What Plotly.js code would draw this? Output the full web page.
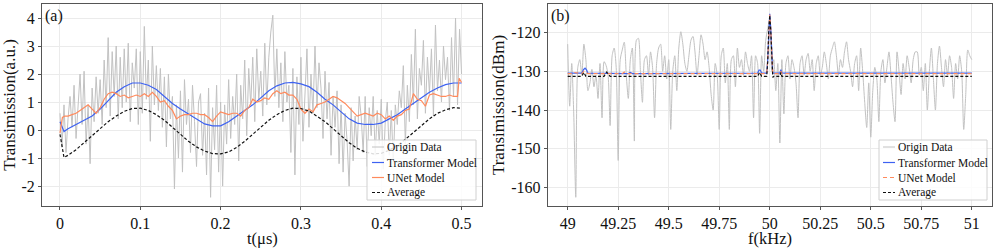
<!DOCTYPE html>
<html>
<head>
<meta charset="utf-8">
<script src="https://cdn.plot.ly/plotly-3.0.1.min.js"></script>
<style>html,body{margin:0;padding:0;background:#fff;}#chart{width:997px;height:249px;}</style>
</head>
<body>
<div id="chart"></div>
<script>
// ---------- Panel (a): time domain ----------
const tOrigin = [];
const originA = [
  0.6,-0.6,0.9,-0.8,0.4,1.2,0.1,1.6,-0.3,0.7,
  2.0,0.2,2.1,-0.5,0.9,-1.2,1.5,0.3,1.9,0.6,
  1.8,0.2,2.5,0.8,3.3,0.5,2.8,1.2,3.0,0.4,
  2.6,0.8,2.9,1.0,3.1,0.3,2.4,1.5,2.9,0.2,
  2.8,0.6,3.7,1.1,2.5,-0.4,3.0,0.9,2.3,0.7,
  2.2,0.1,1.9,-0.6,2.0,0.4,1.2,-2.1,0.9,-1.0,
  1.4,-1.5,1.8,0.2,1.1,-0.8,1.6,0.3,-1.3,1.0,
  1.3,-0.9,0.6,-1.6,1.5,-2.4,0.8,-0.7,1.6,-1.5,
  1.0,-2.0,0.9,-0.5,1.8,-0.3,1.2,0.2,2.0,-1.1,
  1.6,0.4,2.5,-0.2,2.2,0.9,2.6,0.3,2.9,1.1,
  2.1,0.5,3.1,0.9,2.6,3.5,4.1,1.2,2.9,0.8,
  2.4,0.3,2.8,1.0,1.6,-0.8,2.2,-1.6,1.9,0.2,
  2.6,-0.4,1.5,2.9,0.1,2.0,0.6,3.0,0.8,2.4,
  1.5,-0.3,2.1,0.4,1.7,-0.9,1.2,0.1,1.4,-1.2,
  0.9,-1.5,0.6,-0.4,-2.0,0.8,-1.1,0.5,-0.7,1.2,
  0.5,-0.8,1.2,-1.3,0.8,-0.2,1.2,-0.9,0.7,-0.5,
  1.1,-1.4,0.3,1.0,-0.9,0.7,-1.2,0.9,0.2,1.4,
  0.8,2.3,-0.5,1.6,0.3,2.7,0.9,3.6,0.4,2.2,
  1.6,3.2,0.6,2.6,1.3,2.9,0.5,3.75,1.4,2.5,
  1.0,3.0,1.8,2.6,0.7,3.3,1.2,4.0,0.9,3.6,
  2.0
];
for (let i = 0; i < originA.length; i++) tOrigin.push(+(i * 0.0025).toFixed(4));

const tModelA = [0,0.005,0.01,0.02,0.03,0.04,0.05,0.06,0.07,0.08,0.09,0.1,0.11,0.12,0.13,0.14,0.15,0.16,0.17,0.18,0.19,0.2,0.21,0.22,0.23,0.24,0.25,0.26,0.27,0.28,0.29,0.3,0.31,0.32,0.33,0.34,0.35,0.36,0.37,0.38,0.39,0.4,0.41,0.42,0.43,0.44,0.45,0.46,0.47,0.48,0.49,0.5];
const transformerA = [0.3,-0.05,0.05,0.2,0.35,0.5,0.75,1.05,1.35,1.55,1.68,1.68,1.6,1.45,1.2,0.95,0.75,0.58,0.4,0.22,0.15,0.15,0.3,0.5,0.7,0.9,1.15,1.4,1.58,1.68,1.7,1.65,1.55,1.35,1.1,0.9,0.65,0.4,0.25,0.2,0.2,0.25,0.4,0.55,0.75,0.95,1.15,1.35,1.5,1.62,1.68,1.68];
const averageA = [-0.15,-0.98,-0.9,-0.7,-0.45,-0.2,0.05,0.3,0.5,0.67,0.77,0.78,0.7,0.55,0.35,0.1,-0.15,-0.4,-0.6,-0.75,-0.84,-0.85,-0.78,-0.62,-0.4,-0.15,0.1,0.35,0.55,0.7,0.78,0.77,0.68,0.5,0.3,0.05,-0.2,-0.45,-0.65,-0.78,-0.85,-0.83,-0.72,-0.55,-0.33,-0.08,0.18,0.4,0.6,0.72,0.8,0.78];
const tUnetA = [0,0.003,0.006,0.01,0.015,0.02,0.025,0.03,0.035,0.04,0.045,0.05,0.055,0.06,0.065,0.07,0.075,0.08,0.085,0.09,0.095,0.1,0.105,0.11,0.115,0.12,0.125,0.13,0.135,0.14,0.145,0.15,0.155,0.16,0.165,0.17,0.175,0.18,0.185,0.19,0.195,0.2,0.205,0.21,0.215,0.22,0.225,0.23,0.235,0.24,0.245,0.25,0.255,0.26,0.265,0.27,0.275,0.28,0.285,0.29,0.295,0.3,0.305,0.31,0.315,0.32,0.325,0.33,0.335,0.34,0.345,0.35,0.355,0.36,0.365,0.37,0.375,0.38,0.385,0.39,0.395,0.4,0.405,0.41,0.415,0.42,0.425,0.43,0.435,0.44,0.445,0.45,0.455,0.46,0.465,0.47,0.475,0.48,0.485,0.49,0.495,0.497,0.5];
const unetA = [-0.1,0.45,0.5,0.5,0.55,0.6,0.7,0.8,0.9,0.75,0.6,0.8,1.1,1.3,1.35,1.3,1.2,1.25,1.15,1.2,1.25,1.2,1.3,1.2,1.35,1.2,1.0,1.05,0.85,0.7,0.4,0.5,0.55,0.55,0.6,0.6,0.55,0.55,0.45,0.3,0.5,0.65,0.6,0.55,0.6,0.6,0.5,0.7,0.8,1.1,1.0,1.05,1.15,1.1,1.3,1.4,1.3,1.35,1.25,1.25,1.1,0.75,0.6,0.75,0.65,0.9,0.95,1.0,1.1,1.2,1.15,1.05,0.95,0.8,0.65,0.5,0.55,0.6,0.55,0.5,0.6,0.55,0.4,0.5,0.35,0.5,0.55,0.7,0.75,1.3,1.1,1.05,0.85,1.25,1.3,1.25,1.2,1.2,1.25,1.2,1.2,1.85,1.7];

// ---------- Panel (b): frequency domain ----------
const fOrigin = [];
const originB = [
  -123,-139,-128,-141,-162.5,-129,-127,-131,-123,-127,
  -135,-133,-129.5,-134,-131,-137,-128,-142,-127.5,-128.5,
  -131,-144,-126,-124,-129,-153,-127,-124.5,-122.5,-131,
  -137,-127,-124,-148,-122,-121.5,-130,-138,-127,-126,
  -131,-125,-129,-142,-128,-124,-123,-130,-126,-132,
  -127,-145,-130,-126,-135,-124,-119.8,-123,-128,-130,
  -126,-122,-121,-125,-131,-126,-120.6,-123,-127,-125,
  -129,-136,-140,-128,-131,-145,-126,-124,-133,-128,
  -145,-127,-126,-134,-124,-129,-127,-131,-125,-128,
  -130,-126,-142,-126,-128,-146,-126,-130,-122,-119,
  -116.5,-130,-127,-135,-128,-148.5,-127,-141,-128,-126,
  -132,-127,-129,-133,-142,-128,-126,-131,-127,-125.4,
  -130,-127,-135,-128,-126,-131,-129,-125,-128,-132,
  -126,-124,-122.4,-126,-131,-127,-129,-125,-122.4,-127,
  -130,-134,-128,-126,-135,-124,-130,-138,-144.5,-133,
  -147,-135,-129,-132,-143,-130,-127,-133,-129,-125,
  -131,-138,-143,-125,-130,-136,-128,-132,-126,-129,
  -133,-127,-125,-125,-131,-129,-135,-128,-140,-130,
  -124,-132,-140,-128,-123.5,-129,-134,-127,-131,-126,
  -129,-137,-128,-132,-126,-130,-145,-136,-124.5,-126,
  -127
];
for (let i = 0; i < originB.length; i++) fOrigin.push(+(49 + i * 0.01).toFixed(2));

const fTrans = [49,49.07,49.078,49.086,49.094,49.10,49.30,49.31,49.32,49.94,49.947,49.953,49.96,49.985,49.99,49.995,50.0,50.005,50.01,50.015,50.05,50.055,50.06,50.07,51];
const transformerB = [-130.5,-130.5,-129.6,-129.2,-129.7,-130.5,-130.6,-130.3,-130.6,-130.5,-129.7,-129.7,-130.5,-130.5,-127,-119,-115.2,-119,-127,-130.5,-130.5,-129.6,-130.4,-130.5,-130.5];
const fUnet = [49,49.02,49.03,49.07,49.08,49.09,49.10,49.27,49.28,49.29,49.95,49.985,49.99,49.995,50.0,50.005,50.01,50.015,50.05,50.055,50.06,51];
const unetB = [-130.6,-130.6,-130.3,-130.6,-130.0,-130.3,-130.6,-130.6,-130.2,-130.6,-130.6,-130.6,-127,-119,-115.4,-119,-127,-130.6,-130.6,-130.0,-130.6,-130.6];
const fAvg = [49,49.07,49.08,49.09,49.18,49.193,49.21,49.94,49.95,49.96,49.985,49.99,49.995,50.0,50.005,50.01,50.015,50.02,50.05,50.055,50.06,51];
const averageB = [-131.3,-131.3,-130.3,-131.3,-131.3,-130.2,-131.3,-131.3,-130.3,-131.3,-131.3,-127.5,-119.5,-115.6,-119.5,-127.5,-131.6,-131.3,-131.3,-130.3,-131.3,-131.3];

const xTicksA = [0,0.1,0.2,0.3,0.4,0.5];
const xTickTextA = ["0","0.1","0.2","0.3","0.4","0.5"];
const yTicksA = [-2,-1,0,1,2,3,4];
const yTickTextA = ["-2","-1","0","1","2","3","4"];
const xTicksB = [49,49.25,49.5,49.75,50,50.25,50.5,50.75,51];
const xTickTextB = ["49","49.25","49.5","49.75","50","50.25","50.5","50.75","51"];
const yTicksB = [-160,-150,-140,-130,-120];
const yTickTextB = ["-160","-150","-140","-130","-120"];
const legendNames = ["Origin Data","Transformer Model","UNet Model","Average"];

const GRAY = "#c2c2c2", BLUE = "#3d62f2", ORANGE = "#ff8a5c", BLACK = "#111111";
const FONT = '"Liberation Serif", "Times New Roman", serif';

const traces = [
  {x: tOrigin, y: originA, type: "scatter", mode: "lines", name: legendNames[0], line: {color: GRAY, width: 1}, xaxis: "x", yaxis: "y"},
  {x: tModelA, y: transformerA, type: "scatter", mode: "lines", name: legendNames[1], line: {color: BLUE, width: 1.2}, xaxis: "x", yaxis: "y"},
  {x: tUnetA, y: unetA, type: "scatter", mode: "lines", name: legendNames[2], line: {color: ORANGE, width: 1.2}, xaxis: "x", yaxis: "y"},
  {x: tModelA, y: averageA, type: "scatter", mode: "lines", name: legendNames[3], line: {color: BLACK, width: 1.2, dash: "3px,2px"}, xaxis: "x", yaxis: "y"},

  {x: fOrigin, y: originB, type: "scatter", mode: "lines", name: legendNames[0], line: {color: GRAY, width: 1, shape: "spline", smoothing: 0.7}, xaxis: "x2", yaxis: "y2"},
  {x: fTrans, y: transformerB, type: "scatter", mode: "lines", name: legendNames[1], line: {color: BLUE, width: 1.2}, xaxis: "x2", yaxis: "y2"},
  {x: fUnet, y: unetB, type: "scatter", mode: "lines", name: legendNames[2], line: {color: ORANGE, width: 1.2, dash: "4px,3px"}, xaxis: "x2", yaxis: "y2"},
  {x: fAvg, y: averageB, type: "scatter", mode: "lines", name: legendNames[3], line: {color: BLACK, width: 1.2, dash: "3px,2px"}, xaxis: "x2", yaxis: "y2"}
];

// ---- layout geometry (pixels -> paper) ----
const W = 997, H = 249, ML = 42, MR = 5, MT = 4, MB = 43;
const PW = W - ML - MR, PH = H - MT - MB;
const px = v => (v - ML) / PW;
const py = v => (H - MB - v) / PH;

const axisCommon = {
  showgrid: true, gridcolor: "#ebebeb", gridwidth: 1, zeroline: false,
  showline: true, linecolor: "#555", linewidth: 1, mirror: true,
  ticks: "outside", ticklen: 3, tickcolor: "#555",
  tickfont: {family: FONT, size: 16, color: "#111"}
};

// custom legends (box, short line samples, labels)
const shapes = [], annotations = [];
function addLegend(box, lineX0, lineX1, textX, rowsY, styles) {
  shapes.push({type: "rect", xref: "paper", yref: "paper", x0: px(box[0]), x1: px(box[1]), y0: py(box[3]), y1: py(box[2]),
    line: {color: "#d0d0d0", width: 1}, fillcolor: "rgba(255,255,255,0.85)", layer: "above"});
  rowsY.forEach((ry, i) => {
    shapes.push({type: "line", xref: "paper", yref: "paper", x0: px(lineX0), x1: px(lineX1), y0: py(ry), y1: py(ry),
      line: styles[i], layer: "above"});
    annotations.push({text: legendNames[i], xref: "paper", yref: "paper", x: px(textX), y: py(ry), xanchor: "left", yanchor: "middle",
      showarrow: false, font: {family: FONT, size: 11.5, color: "#111"}});
  });
}
addLegend([367, 476, 140, 200], 372, 384, 385, [147, 162.5, 177.5, 192.5],
  [{color: GRAY, width: 1}, {color: BLUE, width: 1.2}, {color: ORANGE, width: 1.2}, {color: BLACK, width: 1.2, dash: "3px,2px"}]);
addLegend([879, 987, 140, 200], 883, 895, 896, [147, 162.5, 177.5, 192.5],
  [{color: GRAY, width: 1}, {color: BLUE, width: 1.2}, {color: ORANGE, width: 1.2, dash: "4px,3px"}, {color: BLACK, width: 1.2, dash: "3px,2px"}]);

annotations.push(
  {text: "(a)", xref: "x domain", yref: "y domain", x: 0.003, y: 0.995, xanchor: "left", yanchor: "top", showarrow: false, font: {family: FONT, size: 16, color: "#111"}},
  {text: "(b)", xref: "x2 domain", yref: "y2 domain", x: 0.003, y: 0.995, xanchor: "left", yanchor: "top", showarrow: false, font: {family: FONT, size: 16, color: "#111"}},
  // x-axis titles
  {text: "t(μs)", xref: "x domain", yref: "paper", x: 0.5, y: py(239), xanchor: "center", yanchor: "middle", showarrow: false, font: {family: FONT, size: 16.5, color: "#111"}},
  {text: "f(kHz)", xref: "x2 domain", yref: "paper", x: 0.5, y: py(239), xanchor: "center", yanchor: "middle", showarrow: false, font: {family: FONT, size: 16.5, color: "#111"}}
);

const layout = {
  width: W, height: H,
  margin: {l: ML, r: MR, t: MT, b: MB},
  paper_bgcolor: "#fff", plot_bgcolor: "#fff",
  font: {family: FONT, color: "#111"},
  showlegend: false,
  xaxis: Object.assign({}, axisCommon, {domain: [0, 0.4632], range: [-0.0224, 0.5255], tickvals: xTicksA, ticktext: xTickTextA}),
  yaxis: Object.assign({}, axisCommon, {range: [-2.71, 4.5], tickvals: yTicksA, ticktext: yTickTextA,
    title: {text: "Transimission(a.u.)", font: {family: FONT, size: 17}}}),
  xaxis2: Object.assign({}, axisCommon, {domain: [0.5323, 1], range: [48.901, 51.1], tickvals: xTicksB, ticktext: xTickTextB, anchor: "y2"}),
  yaxis2: Object.assign({}, axisCommon, {range: [-164.75, -112.65], tickvals: yTicksB, ticktext: yTickTextB, anchor: "x2",
    title: {text: "Transimission(dBm)", font: {family: FONT, size: 17}}}),
  shapes: shapes,
  annotations: annotations
};

Plotly.newPlot("chart", traces, layout, {displayModeBar: false, staticPlot: true});
</script>
</body>
</html>
